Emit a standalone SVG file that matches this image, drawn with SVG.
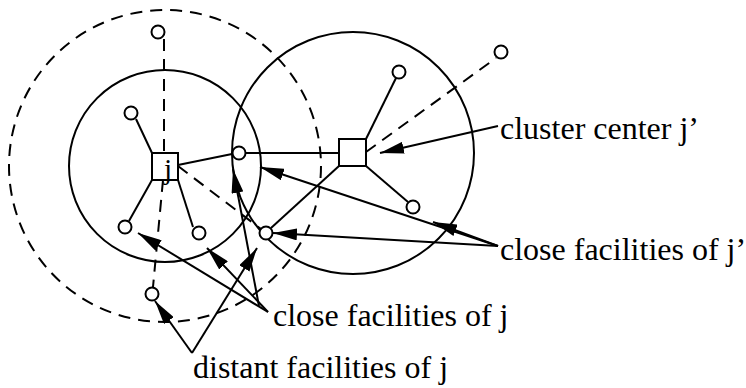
<svg xmlns="http://www.w3.org/2000/svg" width="746" height="388" viewBox="0 0 746 388">
<style>
  .ln{fill:none;stroke:#000;stroke-width:2}
  .dash{fill:none;stroke:#000;stroke-width:2;stroke-dasharray:12 8}
  .fac{fill:#fff;stroke:#000;stroke-width:2}
  .ctr{fill:#fff;stroke:#000;stroke-width:2}
  .arr{fill:none;stroke:#000;stroke-width:2;marker-end:url(#ah)}
  .lbl{font-family:"Liberation Serif","Times New Roman",serif;font-size:32px;fill:#000}
</style>
<defs>
  <marker id="ah" viewBox="0 0 24 12" refX="24" refY="6" markerWidth="24" markerHeight="12" orient="auto" markerUnits="userSpaceOnUse">
    <path d="M0,0 L24,6 L0,12 z" fill="#000"/>
  </marker>
</defs>
<rect width="746" height="388" fill="#fff"/>
<g id="regions">
  <circle id="dist-j" class="dash" cx="165" cy="166" r="156"/>
  <circle id="close-j" class="ln" cx="165" cy="166" r="96"/>
  <circle id="close-jp" class="ln" cx="353" cy="153" r="121"/>
</g>
<g id="connectors">
  <line class="dash" x1="164" y1="39" x2="164" y2="153"/>
  <line class="dash" x1="163" y1="180" x2="153" y2="287"/>
  <line class="dash" x1="178" y1="166" x2="261" y2="229"/>
  <line class="dash" x1="366" y1="152" x2="496" y2="58"/>
  <line class="ln" x1="136" y1="119" x2="152" y2="153"/>
  <line class="ln" x1="178" y1="165" x2="232" y2="154"/>
  <line class="ln" x1="245" y1="153" x2="339" y2="153"/>
  <line class="ln" x1="152" y1="180" x2="129" y2="221"/>
  <line class="ln" x1="178" y1="180" x2="193" y2="227"/>
  <line class="ln" x1="366" y1="139" x2="396" y2="78"/>
  <line class="ln" x1="366" y1="166" x2="408" y2="202"/>
  <line class="ln" x1="339" y1="166" x2="271" y2="228"/>
  <line class="arr" x1="498" y1="126" x2="380" y2="153"/>
  <line class="arr" x1="498" y1="246" x2="260" y2="167"/>
  <line class="arr" x1="498" y1="246" x2="433" y2="222"/>
  <line class="arr" x1="498" y1="246" x2="273" y2="233"/>
  <line class="arr" x1="268" y1="312" x2="138" y2="233"/>
  <line class="arr" x1="268" y1="312" x2="207" y2="248"/>
  <line class="arr" x1="259" y1="306" x2="233" y2="169"/>
  <line class="arr" x1="192" y1="353" x2="155" y2="301"/>
  <line class="arr" x1="192" y1="353" x2="257" y2="248"/>
</g>
<g id="center-j">
  <rect class="ctr" x="152" y="153" width="26" height="27"/>
  <text class="lbl" x="164" y="179" style="font-size:29px">j</text>
</g>
<g id="center-jp">
  <rect class="ctr" x="339" y="139" width="27" height="27"/>
</g>
<g id="facilities">
  <circle id="f1" class="fac" cx="158" cy="32" r="6.5"/>
  <circle id="f2" class="fac" cx="131" cy="113" r="6.5"/>
  <circle id="f3" class="fac" cx="239" cy="153" r="6.5"/>
  <circle id="f4" class="fac" cx="125" cy="227" r="6.5"/>
  <circle id="f5" class="fac" cx="199" cy="233" r="6.5"/>
  <circle id="f6" class="fac" cx="266" cy="233" r="6.5"/>
  <circle id="f7" class="fac" cx="152" cy="294" r="6.5"/>
  <circle id="f8" class="fac" cx="399" cy="72" r="6.5"/>
  <circle id="f9" class="fac" cx="501" cy="52" r="6.5"/>
  <circle id="f10" class="fac" cx="413" cy="207" r="6.5"/>
</g>
<g id="label-cluster-center"><text class="lbl" x="500" y="139">cluster center j’</text></g>
<g id="label-close-jp"><text class="lbl" x="500" y="260">close facilities of j’</text></g>
<g id="label-close-j"><text class="lbl" x="273" y="326">close facilities of j</text></g>
<g id="label-distant-j"><text class="lbl" x="193" y="378">distant facilities of j</text></g>
</svg>
